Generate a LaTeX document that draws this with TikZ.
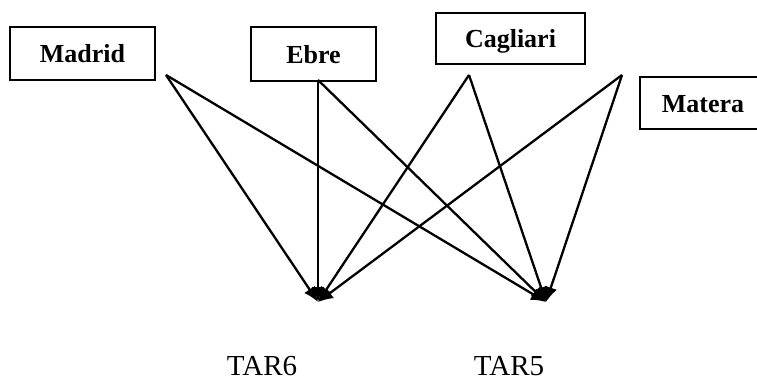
\documentclass[tikz,border=0pt]{standalone}
\usepackage{fontspec}
\setmainfont{Liberation Serif}
\usetikzlibrary{arrows.meta}
\begin{document}
\begin{tikzpicture}[x=1pt,y=-1pt,
  place/.style={draw,line width=2pt,inner sep=0pt,font=\fontsize{26}{30}\selectfont\bfseries,
    text height=18pt,text depth=0pt},
  link/.style={line width=2.3pt,-{Latex[length=15pt,width=13pt]}},
  tarlabel/.style={anchor=base,inner sep=0pt,font=\fontsize{29}{33}\selectfont}]
  \useasboundingbox (0,0) rectangle (757,380);
  % origin boxes
  \node[place,minimum width=145pt,minimum height=53pt] (madrid) at (82.5,53.5) {Madrid};
  \node[place,minimum width=125pt,minimum height=54pt] (ebre) at (313.5,54) {Ebre};
  \node[place,minimum width=149pt,minimum height=51pt] (cagliari) at (510.5,38.5) {Cagliari};
  \node[place,minimum width=126pt,minimum height=52pt] (matera) at (703,103) {Matera};
  % starting points of the links
  \coordinate (ms) at (166,75);
  \coordinate (es) at (318,80);
  \coordinate (cs) at (469,75);
  \coordinate (ts) at (622,75);
  % targets
  \coordinate (t6) at (318,302);
  \coordinate (t5) at (546,302);
  \node[tarlabel] (tar6) at (262,375) {TAR6};
  \node[tarlabel] (tar5) at (509,375) {TAR5};
  % links
  \foreach \s in {ms,es,cs,ts}{
    \draw[link] (\s) -- (t6);
    \draw[link] (\s) -- (t5);
  }
\end{tikzpicture}
\end{document}
